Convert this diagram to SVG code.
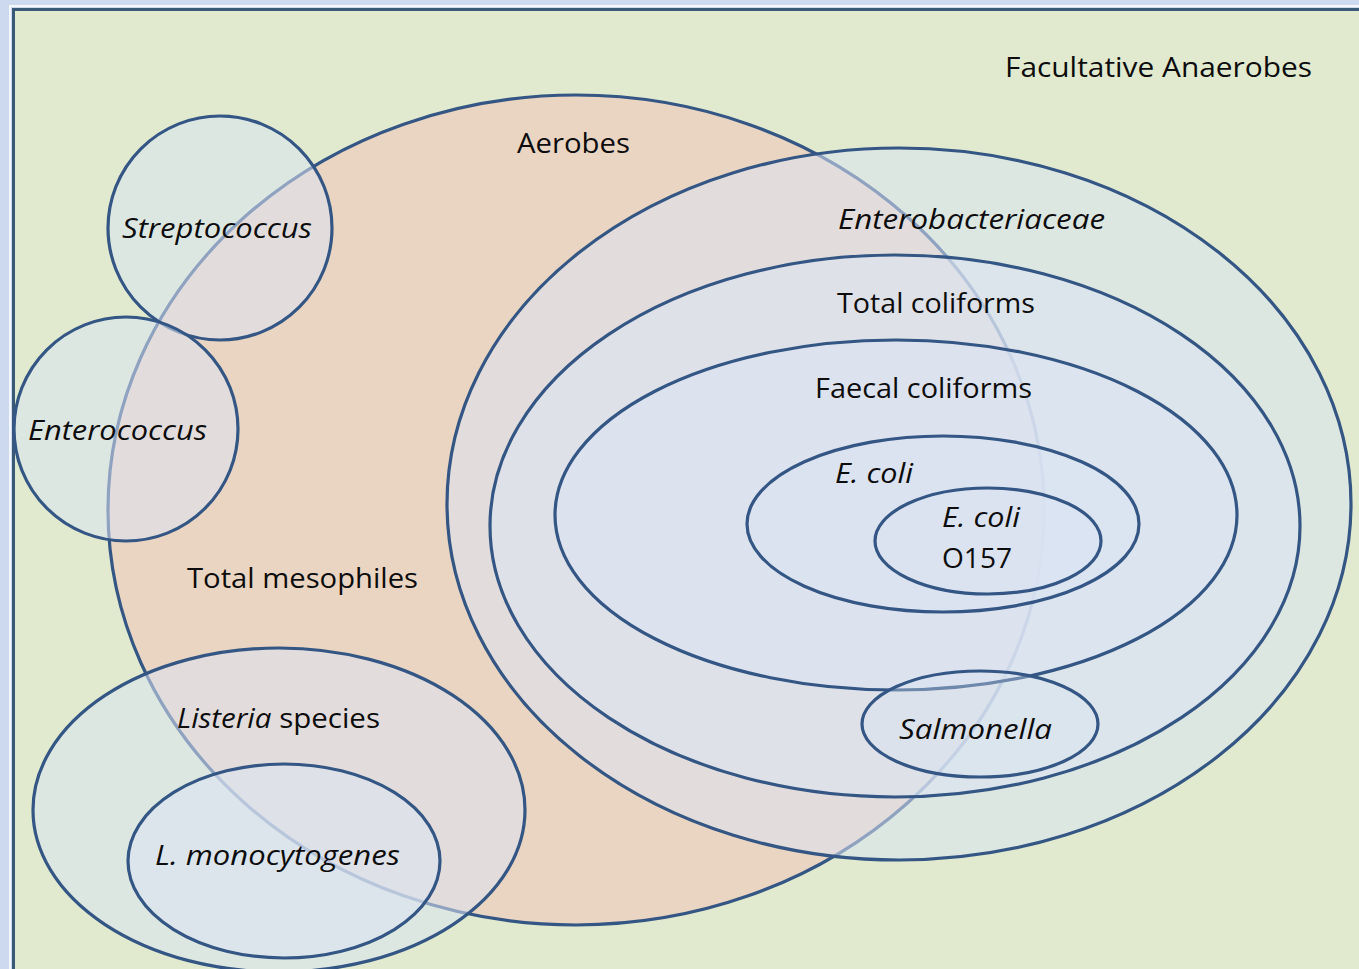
<svg xmlns="http://www.w3.org/2000/svg" width="1359" height="969" viewBox="0 0 1359 969">
  <style>
    .set { stroke: #345684; stroke-width: 3.2; }
    .blue { fill: #dae4f3; fill-opacity: 0.55; }
    .lbl { font-family: "Open Sans", "Liberation Sans", sans-serif; font-size: 28px; fill: #0c0c0c; }
    .it { font-style: italic; }
  </style>
  <rect x="0" y="0" width="1359" height="969" fill="#cdd9ef"/>
  <rect x="10" y="6" width="1360" height="980" fill="none" stroke="#f4f7fc" stroke-width="2"/>
  <rect x="13.5" y="9.5" width="1360" height="980" fill="#e1eacf" stroke="#3a5878" stroke-width="3"/>

  <g id="aerobes">
    <ellipse class="set" cx="576" cy="510" rx="468" ry="415" fill="#ead5c2"/>
    <text class="lbl" x="517" y="153" textLength="113" lengthAdjust="spacingAndGlyphs">Aerobes</text>
  </g>
  <g id="streptococcus">
    <circle class="set blue" cx="220" cy="228" r="112"/>
    <text class="lbl it" x="122" y="238" textLength="190" lengthAdjust="spacingAndGlyphs">Streptococcus</text>
  </g>
  <g id="enterococcus">
    <circle class="set blue" cx="126" cy="429" r="112"/>
    <text class="lbl it" x="28" y="440" textLength="179" lengthAdjust="spacingAndGlyphs">Enterococcus</text>
  </g>
  <g id="listeria">
    <ellipse class="set blue" cx="279" cy="810" rx="246" ry="162"/>
    <text class="lbl" x="177" y="728" textLength="203" lengthAdjust="spacingAndGlyphs"><tspan class="it">Listeria</tspan> species</text>
  </g>
  <g id="l-monocytogenes">
    <ellipse class="set blue" cx="284" cy="861" rx="156" ry="97"/>
    <text class="lbl it" x="155" y="865" textLength="245" lengthAdjust="spacingAndGlyphs">L. monocytogenes</text>
  </g>
  <g id="total-mesophiles">
    <text class="lbl" x="187" y="588" textLength="231" lengthAdjust="spacingAndGlyphs">Total mesophiles</text>
  </g>
  <g id="enterobacteriaceae">
    <ellipse class="set blue" cx="899" cy="504" rx="452" ry="356"/>
    <text class="lbl it" x="838" y="229" textLength="267" lengthAdjust="spacingAndGlyphs">Enterobacteriaceae</text>
  </g>
  <g id="total-coliforms">
    <ellipse class="set blue" cx="895" cy="526" rx="405" ry="271"/>
    <text class="lbl" x="837" y="313" textLength="198" lengthAdjust="spacingAndGlyphs">Total coliforms</text>
  </g>
  <g id="faecal-coliforms">
    <ellipse class="set blue" cx="896" cy="515" rx="341" ry="175"/>
    <text class="lbl" x="815" y="398" textLength="217" lengthAdjust="spacingAndGlyphs">Faecal coliforms</text>
  </g>
  <g id="e-coli">
    <ellipse class="set blue" cx="943" cy="524" rx="196" ry="88"/>
    <text class="lbl it" x="835" y="483" textLength="78" lengthAdjust="spacingAndGlyphs">E. coli</text>
  </g>
  <g id="e-coli-o157">
    <ellipse class="set blue" cx="988" cy="541" rx="113" ry="53"/>
    <text class="lbl it" x="942" y="527" textLength="78" lengthAdjust="spacingAndGlyphs">E. coli</text>
    <text class="lbl" x="942" y="568" textLength="70" lengthAdjust="spacingAndGlyphs">O157</text>
  </g>
  <g id="salmonella">
    <ellipse class="set" cx="980" cy="724" rx="118" ry="53" fill="#dae4f3" fill-opacity="0.35"/>
    <text class="lbl it" x="899" y="739" textLength="153" lengthAdjust="spacingAndGlyphs">Salmonella</text>
  </g>
  <g id="facultative-anaerobes">
    <text class="lbl" x="1005" y="77" textLength="307" lengthAdjust="spacingAndGlyphs">Facultative Anaerobes</text>
  </g>
  <g id="connectors"/>
</svg>
